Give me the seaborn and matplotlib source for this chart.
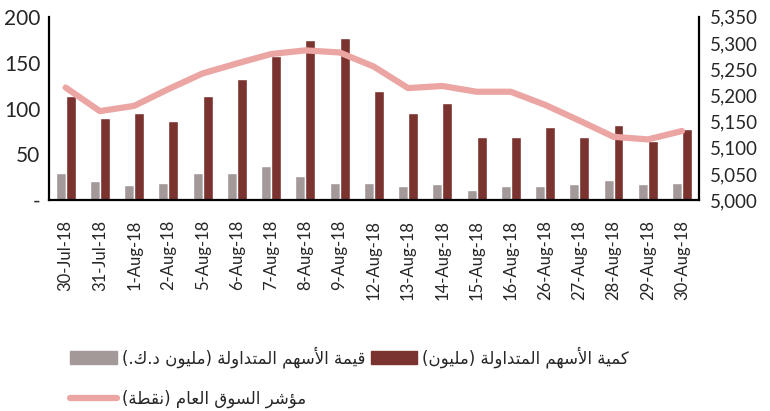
import numpy as np
import pandas as pd
import matplotlib
matplotlib.use("Agg")
import matplotlib.pyplot as plt
import seaborn as sns
from matplotlib.patches import Patch
from matplotlib.lines import Line2D
from matplotlib.ticker import FuncFormatter

# ---------------- data ----------------
dates = ["30-Jul-18", "31-Jul-18", "1-Aug-18", "2-Aug-18", "5-Aug-18", "6-Aug-18",
         "7-Aug-18", "8-Aug-18", "9-Aug-18", "12-Aug-18", "13-Aug-18", "14-Aug-18",
         "15-Aug-18", "16-Aug-18", "26-Aug-18", "27-Aug-18", "28-Aug-18", "29-Aug-18",
         "30-Aug-18"]
value_kd = [30, 21, 17, 19, 30, 30, 37, 26, 19, 19, 15, 17.5, 10.6, 15, 15, 17.5, 21.5, 17.5, 19]
volume_shares = [114, 90, 95, 86, 114, 132, 157, 175, 177, 119, 95, 106, 69, 69, 80, 69, 82, 65, 78]
index_points = [5215, 5170, 5180, 5212, 5242, 5261, 5279, 5286, 5282, 5255, 5214, 5218,
                5207, 5207, 5182, 5152, 5121, 5116, 5132]

label_value = "قيمة الأسهم المتداولة (مليون د.ك.)"
label_volume = "كمية الأسهم المتداولة (مليون)"
label_index = "مؤشر السوق العام (نقطة)"

# ---------------- Arabic shaping (presentation forms + visual order) ----------------
FORMS = {  # iso, fin, ini, med
    'ا': ('\uFE8D', '\uFE8E', None, None),
    'أ': ('\uFE83', '\uFE84', None, None),
    'ؤ': ('\uFE85', '\uFE86', None, None),
    'ة': ('\uFE93', '\uFE94', None, None),
    'د': ('\uFEA9', '\uFEAA', None, None),
    'ر': ('\uFEAD', '\uFEAE', None, None),
    'و': ('\uFEED', '\uFEEE', None, None),
    'ت': ('\uFE95', '\uFE96', '\uFE97', '\uFE98'),
    'س': ('\uFEB1', '\uFEB2', '\uFEB3', '\uFEB4'),
    'ش': ('\uFEB5', '\uFEB6', '\uFEB7', '\uFEB8'),
    'ط': ('\uFEC1', '\uFEC2', '\uFEC3', '\uFEC4'),
    'ع': ('\uFEC9', '\uFECA', '\uFECB', '\uFECC'),
    'ق': ('\uFED5', '\uFED6', '\uFED7', '\uFED8'),
    'ك': ('\uFED9', '\uFEDA', '\uFEDB', '\uFEDC'),
    'ل': ('\uFEDD', '\uFEDE', '\uFEDF', '\uFEE0'),
    'م': ('\uFEE1', '\uFEE2', '\uFEE3', '\uFEE4'),
    'ن': ('\uFEE5', '\uFEE6', '\uFEE7', '\uFEE8'),
    'ه': ('\uFEE9', '\uFEEA', '\uFEEB', '\uFEEC'),
    'ي': ('\uFEF1', '\uFEF2', '\uFEF3', '\uFEF4'),
    'LA': ('\uFEFB', '\uFEFC', None, None),
    'LAH': ('\uFEF7', '\uFEF8', None, None),
}


def shape(text):
    toks = []
    i = 0
    while i < len(text):
        c = text[i]
        if c == 'ل' and i + 1 < len(text) and text[i + 1] in ('ا', 'أ'):
            toks.append('LA' if text[i + 1] == 'ا' else 'LAH')
            i += 2
        else:
            toks.append(c)
            i += 1
    out = []
    for k, t in enumerate(toks):
        if t not in FORMS:
            out.append(t)
            continue
        f = FORMS[t]
        prev = toks[k - 1] if k > 0 else None
        nxt = toks[k + 1] if k + 1 < len(toks) else None
        pj = prev in FORMS and FORMS[prev][2] is not None
        nj = f[2] is not None and nxt in FORMS
        if pj and nj:
            out.append(f[3])
        elif pj:
            out.append(f[1])
        elif nj:
            out.append(f[2])
        else:
            out.append(f[0])
    s = ''.join(out)[::-1]
    s = s.translate(str.maketrans({'(': ')', ')': '('}))
    return s

# ---------------- plot ----------------
sns.set_theme(style="white")
plt.rcParams['font.family'] = ['Lato', 'DejaVu Sans']

df = pd.DataFrame({"date": dates * 2,
                   "val": value_kd + volume_shares,
                   "series": ["value"] * len(dates) + ["volume"] * len(dates)})

fig = plt.figure(figsize=(7.7, 4.11), dpi=100)
ax = fig.add_axes([0.063, 0.513, 0.845, 0.446])

gray = "#a29998"
red = "#7b3330"
pink = "#eba6a4"

sns.barplot(data=df, x="date", y="val", hue="series", palette=[gray, red],
            ax=ax, width=0.58, gap=0.0, legend=False, saturation=1)
ax.set_ylim(0, 200)
ax.set_yticks([0, 50, 100, 150, 200])
ax.yaxis.set_major_formatter(FuncFormatter(lambda v, p: "-" if v == 0 else f"{int(v)}"))
ax.set_xlim(-0.5, len(dates) - 0.5)
ax.set_xlabel("")
ax.set_ylabel("")
ax.tick_params(axis='x', labelrotation=90, labelsize=12, length=0, pad=14)
ax.tick_params(axis='y', labelsize=15, length=0, pad=6)
for s in ["top", "right"]:
    ax.spines[s].set_visible(False)
for s in ["left", "bottom"]:
    ax.spines[s].set_color("black")
    ax.spines[s].set_linewidth(1.6)

ax2 = ax.twinx()
sns.lineplot(x=np.arange(len(dates)), y=index_points, ax=ax2, color=pink, lw=4.5,
             solid_capstyle="round", solid_joinstyle="round")
ax2.set_ylim(5000, 5350)
ax2.set_yticks(np.arange(5000, 5351, 50))
ax2.yaxis.set_major_formatter(FuncFormatter(lambda v, p: f"{int(v):,}"))
ax2.tick_params(axis='y', labelsize=13.5, length=0, pad=8)
for s in ["top", "left", "bottom"]:
    ax2.spines[s].set_visible(False)
ax2.spines["right"].set_color("black")
ax2.spines["right"].set_linewidth(1.6)
ax2.grid(False)
ax.grid(False)

handles = [Patch(facecolor=gray, edgecolor=gray),
           Line2D([0], [0], color=pink, lw=4.5),
           Patch(facecolor=red, edgecolor=red)]
labels = [shape(label_value), shape(label_index), shape(label_volume)]
fig.legend(handles, labels, ncol=2, loc="lower left", bbox_to_anchor=(0.072, -0.03),
           frameon=False, prop={'family': 'DejaVu Sans', 'size': 12},
           handlelength=2.8, handleheight=0.85, handletextpad=0.3,
           columnspacing=0.3, labelspacing=1.35)

fig.savefig("out.png", dpi=100)
